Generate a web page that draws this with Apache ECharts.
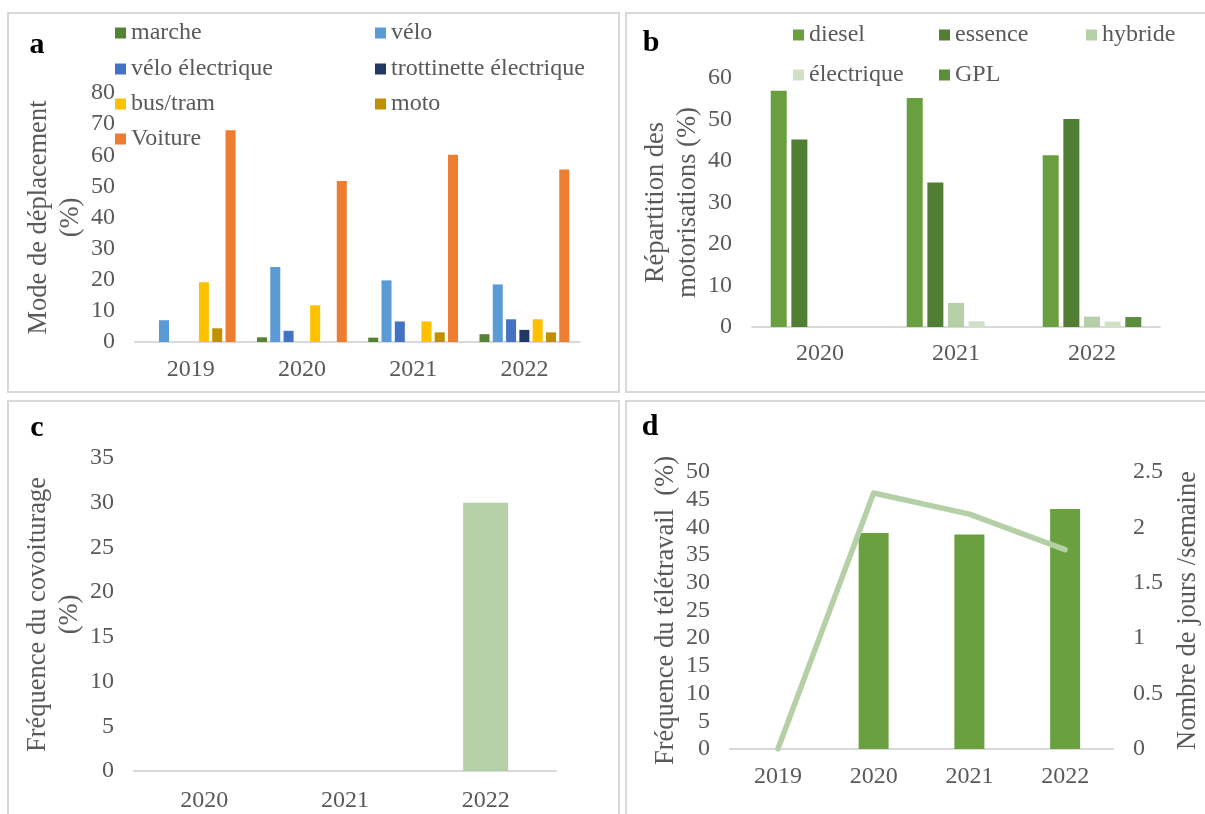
<!DOCTYPE html>
<html>
<head>
<meta charset="utf-8">
<script src="https://cdn.jsdelivr.net/npm/echarts@6/dist/echarts.min.js"></script>
<style>
html,body{margin:0;padding:0;background:#fff;}
#c{width:1205px;height:814px;}
</style>
</head>
<body>
<div id="c"></div>
<script>
// ---- Data ----
var yearsA = ['2019', '2020', '2021', '2022'];
var marche = [0, 1.5, 1.4, 2.5];
var velo = [7, 24.1, 19.8, 18.5];
var veloElec = [0, 3.6, 6.6, 7.3];
var trottinette = [0, 0, 0, 3.9];
var busTram = [19.2, 11.8, 6.6, 7.3];
var moto = [4.4, 0, 3.1, 3.1];
var voiture = [68, 51.7, 60.2, 55.4];

var yearsB = ['2020', '2021', '2022'];
var diesel = [56.9, 55.2, 41.4];
var essence = [45.2, 34.8, 50.1];
var hybride = [0, 5.8, 2.5];
var electrique = [0, 1.4, 1.3];
var gpl = [0, 0, 2.4];

var yearsC = ['2020', '2021', '2022'];
var covoiturage = [0, 0, 30];

var yearsD = ['2019', '2020', '2021', '2022'];
var teletravail = [0, 39.0, 38.7, 43.3];
var joursSemaine = [0, 2.31, 2.12, 1.8];

// ---- Styles ----
var FONT = 'Liberation Serif';
var GREY = '#595959';
var AXIS_LINE = '#d9d9d9';
var TICK_SIZE = 24;
var NAME_SIZE = 26.5;

function xAxisCfg(gridIndex, cats, margin) {
  return {
    type: 'category', gridIndex: gridIndex, data: cats,
    axisLine: {show: true, lineStyle: {color: AXIS_LINE, width: 2}},
    axisTick: {show: false},
    axisLabel: {color: GREY, fontFamily: FONT, fontSize: TICK_SIZE, margin: margin},
    splitLine: {show: false}
  };
}
function yAxisCfg(gridIndex, min, max, interval, name, nameGap, position) {
  return {
    type: 'value', gridIndex: gridIndex, min: min, max: max, interval: interval,
    position: position || 'left',
    name: name, nameLocation: 'middle', nameGap: nameGap, nameRotate: 90,
    nameTextStyle: {color: GREY, fontFamily: FONT, fontSize: NAME_SIZE, lineHeight: 32},
    axisLine: {show: false}, axisTick: {show: false},
    axisLabel: {color: GREY, fontFamily: FONT, fontSize: TICK_SIZE, margin: 20},
    splitLine: {show: false}
  };
}
function legendItem(name, left, cy) {
  return {
    data: [name], left: left, top: cy - 13, padding: 0,
    icon: 'rect', itemWidth: 11, itemHeight: 11, itemGap: 6,
    textStyle: {color: GREY, fontFamily: FONT, fontSize: 24, lineHeight: 26, padding: [0, 0, 0, 0]},
    selectedMode: false
  };
}
function border(x, y, w, h) {
  return {type: 'rect', shape: {x: x, y: y, width: w, height: h},
          style: {fill: 'none', stroke: '#d9d9d9', lineWidth: 2}, silent: true};
}
function letter(t, x, y) {
  return {type: 'text', x: x, y: y,
          style: {text: t, fill: '#000', font: 'bold 30px "Liberation Serif"', align: 'center', verticalAlign: 'middle'}};
}

var colors = {
  marche: '#548235', velo: '#5B9BD5', veloElec: '#4472C4', trott: '#203864',
  bus: '#FFC000', moto: '#BF9000', voiture: '#ED7D31',
  diesel: '#6A9F40', essence: '#507E32', hybride: '#B5D0A6', elec: '#CFE0C6', gpl: '#5A8E3A',
  covoit: '#B5CFA6', tele: '#6AA040', jours: '#B5D0A6'
};

function barA(name, data, color) {
  return {type: 'bar', name: name, xAxisIndex: 0, yAxisIndex: 0, data: data,
          barWidth: 10, barGap: '33%', itemStyle: {color: color}};
}
function barB(name, data, color) {
  return {type: 'bar', name: name, xAxisIndex: 1, yAxisIndex: 1, data: data,
          barWidth: 16, barGap: '29%', itemStyle: {color: color}};
}

var option = {
  animation: false,
  textStyle: {fontFamily: FONT},
  grid: [
    {left: 135, top: 93, width: 445, height: 249, containLabel: false},
    {left: 752, top: 78, width: 408, height: 249, containLabel: false},
    {left: 134, top: 458, width: 422, height: 313, containLabel: false},
    {left: 730, top: 472, width: 383, height: 277, containLabel: false}
  ],
  xAxis: [
    xAxisCfg(0, yearsA, 16),
    xAxisCfg(1, yearsB, 15),
    xAxisCfg(2, yearsC, 18),
    xAxisCfg(3, yearsD, 16)
  ],
  yAxis: [
    yAxisCfg(0, 0, 80, 10, 'Mode de déplacement\n(%)', 48),
    yAxisCfg(1, 0, 60, 10, 'Répartition des\nmotorisations (%)', 47),
    yAxisCfg(2, 0, 35, 5, 'Fréquence du covoiturage\n(%)', 48),
    yAxisCfg(3, 0, 50, 5, 'Fréquence du télétravail  (%)', 48),
    yAxisCfg(3, 0, 2.5, 0.5, 'Nombre de jours /semaine', 59, 'right')
  ],
  legend: [
    legendItem('marche', 115, 33),
    legendItem('vélo', 375, 33),
    legendItem('vélo électrique', 115, 69),
    legendItem('trottinette électrique', 375, 69),
    legendItem('bus/tram', 115, 104),
    legendItem('moto', 375, 104),
    legendItem('Voiture', 115, 139),
    legendItem('diesel', 793, 35),
    legendItem('essence', 939, 35),
    legendItem('hybride', 1086, 35),
    legendItem('électrique', 793, 75),
    legendItem('GPL', 939, 75)
  ],
  graphic: [
    border(8, 13, 611, 379),
    border(626, 13, 590, 379),
    border(8, 401, 611, 430),
    border(626, 401, 590, 430),
    letter('a', 37, 45),
    letter('b', 651, 43),
    letter('c', 37, 428),
    letter('d', 650, 427)
  ],
  series: [
    barA('marche', marche, colors.marche),
    barA('vélo', velo, colors.velo),
    barA('vélo électrique', veloElec, colors.veloElec),
    barA('trottinette électrique', trottinette, colors.trott),
    barA('bus/tram', busTram, colors.bus),
    barA('moto', moto, colors.moto),
    barA('Voiture', voiture, colors.voiture),
    barB('diesel', diesel, colors.diesel),
    barB('essence', essence, colors.essence),
    barB('hybride', hybride, colors.hybride),
    barB('électrique', electrique, colors.elec),
    barB('GPL', gpl, colors.gpl),
    {type: 'bar', name: 'covoiturage', xAxisIndex: 2, yAxisIndex: 2, data: covoiturage,
     barWidth: 45, itemStyle: {color: colors.covoit}},
    {type: 'bar', name: 'télétravail', xAxisIndex: 3, yAxisIndex: 3, data: teletravail,
     barWidth: 30, itemStyle: {color: colors.tele}},
    {type: 'line', name: 'jours', xAxisIndex: 3, yAxisIndex: 4, data: joursSemaine,
     symbol: 'none', lineStyle: {color: colors.jours, width: 5.5, cap: 'round', join: 'round'},
     itemStyle: {color: colors.jours}, z: 5}
  ]
};

var chart = echarts.init(document.getElementById('c'), null, {renderer: 'canvas'});
chart.setOption(option);
</script>
</body>
</html>
